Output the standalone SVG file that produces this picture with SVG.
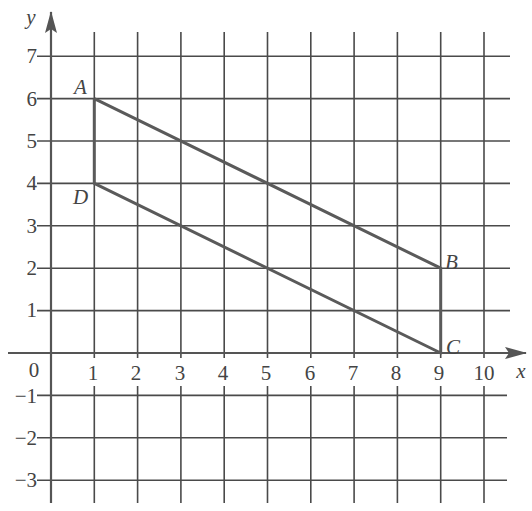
<svg xmlns="http://www.w3.org/2000/svg" width="532" height="511" viewBox="0 0 532 511">
<style>
.grid line{stroke:#4a4a4a;stroke-width:1.6}
.axis{stroke:#555;stroke-width:2.2}
.shape{stroke:#5a5a5a;stroke-width:3;fill:none;stroke-linejoin:round}
text{font-family:"Liberation Serif","Times New Roman",serif;font-size:21px;fill:#444}
.it{font-style:italic}
.r{text-anchor:end}
.m{text-anchor:middle}
.gap{fill:#fff}
</style>
<defs>
<marker id="ah" viewBox="0 0 22 12" refX="21" refY="6" markerWidth="22" markerHeight="12" orient="auto" markerUnits="userSpaceOnUse">
<path d="M0,0 L22,6 L0,12 L4,6 Z" fill="#555"/>
</marker>
</defs>
<rect width="532" height="511" fill="#fff"/>
<g id="grid" class="grid">
<line x1="94.3" y1="32" x2="94.3" y2="503"/>
<line x1="137.6" y1="32" x2="137.6" y2="503"/>
<line x1="180.9" y1="32" x2="180.9" y2="503"/>
<line x1="224.2" y1="32" x2="224.2" y2="503"/>
<line x1="267.5" y1="32" x2="267.5" y2="503"/>
<line x1="310.8" y1="32" x2="310.8" y2="503"/>
<line x1="354.1" y1="32" x2="354.1" y2="503"/>
<line x1="397.4" y1="32" x2="397.4" y2="503"/>
<line x1="440.7" y1="32" x2="440.7" y2="503"/>
<line x1="484" y1="32" x2="484" y2="503"/>
<line x1="37" y1="56.2" x2="510" y2="56.2"/>
<line x1="37" y1="98.6" x2="510" y2="98.6"/>
<line x1="37" y1="141" x2="510" y2="141"/>
<line x1="37" y1="183.4" x2="510" y2="183.4"/>
<line x1="37" y1="225.8" x2="510" y2="225.8"/>
<line x1="37" y1="268.2" x2="510" y2="268.2"/>
<line x1="37" y1="310.6" x2="510" y2="310.6"/>
<line x1="37" y1="395.4" x2="507" y2="395.4"/>
<line x1="37" y1="437.8" x2="507" y2="437.8"/>
<line x1="37" y1="480.2" x2="507" y2="480.2"/>
</g>
<g id="label-gaps">
<rect class="gap" x="86" y="358" width="15" height="28"/>
<rect class="gap" x="129" y="358" width="15" height="28"/>
<rect class="gap" x="173" y="358" width="15" height="28"/>
<rect class="gap" x="216" y="358" width="15" height="28"/>
<rect class="gap" x="259" y="358" width="15" height="28"/>
<rect class="gap" x="303" y="358" width="15" height="28"/>
<rect class="gap" x="346" y="358" width="15" height="28"/>
<rect class="gap" x="389" y="358" width="15" height="28"/>
<rect class="gap" x="432" y="358" width="15" height="28"/>
<rect class="gap" x="472" y="358" width="24" height="28"/>
</g>
<g id="axes">
<line class="axis" x1="51" y1="503" x2="51" y2="12" marker-end="url(#ah)"/>
<line class="axis" x1="8" y1="353" x2="526" y2="353" marker-end="url(#ah)"/>
</g>
<g id="connectors">
<polyline class="shape" points="94.3,98.6 94.3,183.4 440.7,353 440.7,268.2 94.3,98.6"/>
</g>
<g id="axis-labels">
<text class="it m" x="31" y="24">y</text>
<text class="it m" x="521" y="378">x</text>
<text class="m" x="34" y="377">0</text>
<text class="r" x="37" y="63">7</text>
<text class="r" x="37" y="106">6</text>
<text class="r" x="37" y="148">5</text>
<text class="r" x="37" y="190">4</text>
<text class="r" x="37" y="233">3</text>
<text class="r" x="37" y="275">2</text>
<text class="r" x="37" y="317">1</text>
<text class="r" x="37" y="403">−1</text>
<text class="r" x="37" y="445">−2</text>
<text class="r" x="37" y="487">−3</text>
<text class="m" x="93" y="380">1</text>
<text class="m" x="136" y="380">2</text>
<text class="m" x="180" y="380">3</text>
<text class="m" x="223" y="380">4</text>
<text class="m" x="266" y="380">5</text>
<text class="m" x="310" y="380">6</text>
<text class="m" x="353" y="380">7</text>
<text class="m" x="396" y="380">8</text>
<text class="m" x="439" y="380">9</text>
<text class="m" x="484" y="380">10</text>
</g>
<g id="A"><text class="it" x="74" y="94">A</text></g>
<g id="D"><text class="it" x="73" y="204">D</text></g>
<g id="B"><text class="it" x="445" y="269">B</text></g>
<g id="C"><text class="it" x="446" y="354">C</text></g>
</svg>
